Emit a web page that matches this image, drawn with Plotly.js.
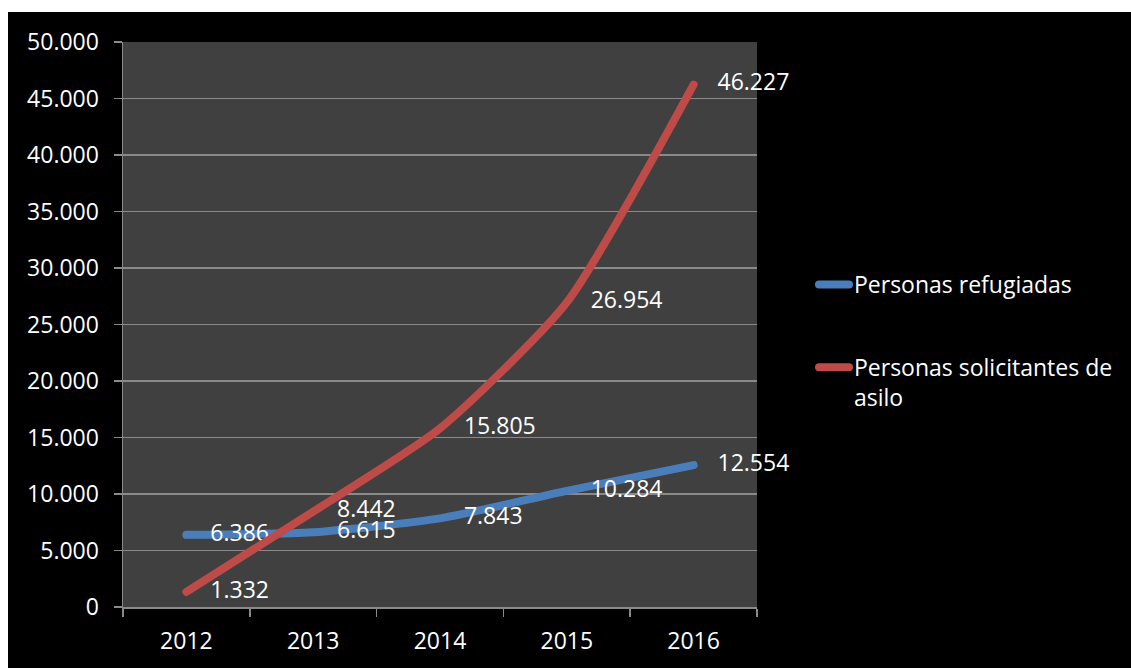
<!DOCTYPE html>
<html>
<head>
<meta charset="utf-8">
<script src="https://cdn.plot.ly/plotly-3.0.1.min.js"></script>
<style>
html,body{margin:0;padding:0;background:#fff;}#chart{width:1131px;height:668px;}
.js-line, .legendlines path{stroke-linecap:round !important;stroke-linejoin:round !important;}
</style>
</head>
<body>
<div id="chart"></div>
<script>
var years = ['2012', '2013', '2014', '2015', '2016'];
var refugiadas = [6386, 6615, 7843, 10284, 12554];
var solicitantes = [1332, 8442, 15805, 26954, 46227];
var seriesNames = ['Personas refugiadas', 'Personas solicitantes de<br>asilo'];
var yTicks = [0, 5000, 10000, 15000, 20000, 25000, 30000, 35000, 40000, 45000, 50000];

var FONT = '"Open Sans", Lato, sans-serif';
var FS = 23;
var W = 1131, H = 668, L = 123, R = 757, T = 42, B = 607;
function px(x) { return (x - L) / (R - L); }
function py(y) { return (B - y) / (B - T); }

var traces = [
  {
    x: years, y: refugiadas, name: seriesNames[0], legendgroup: 'a',
    type: 'scatter', mode: 'lines+text',
    line: {color: '#4A7EBB', width: 8, shape: 'spline', smoothing: 0.6},
    text: refugiadas, texttemplate: '    %{y:,}', textposition: 'middle right',
    textfont: {color: '#ffffff', size: FS, family: FONT},
    cliponaxis: false, hoverinfo: 'x+y'
  },
  {
    x: years, y: solicitantes, name: seriesNames[1], legendgroup: 'b',
    type: 'scatter', mode: 'lines+text',
    line: {color: '#BE4B48', width: 8, shape: 'spline', smoothing: 0.6},
    text: solicitantes, texttemplate: '    %{y:,}', textposition: 'middle right',
    textfont: {color: '#ffffff', size: FS, family: FONT},
    cliponaxis: false, hoverinfo: 'x+y'
  }
];

var layout = {
  width: W, height: H,
  margin: {l: L, r: W - R, t: T, b: H - B, pad: 0},
  paper_bgcolor: '#000000',
  plot_bgcolor: '#404040',
  separators: ',.',
  font: {family: FONT, color: '#ffffff', size: FS},
  showlegend: true,
  legend: {
    x: px(814), y: py(263), xanchor: 'left', yanchor: 'top',
    bgcolor: 'rgba(0,0,0,0)', font: {color: '#ffffff', size: FS, family: FONT},
    traceorder: 'grouped', tracegroupgap: 50, valign: 'top'
  },
  xaxis: {
    type: 'category', range: [-0.5, 4.5], tickson: 'boundaries',
    showline: true, linecolor: '#8a8a8a', linewidth: 1.5,
    ticks: 'outside', ticklen: 8, tickcolor: '#8a8a8a', tickwidth: 1.5,
    showgrid: false, zeroline: false,
    tickfont: {color: '#ffffff', size: FS, family: FONT},
    ticklabelstandoff: 13
  },
  yaxis: {
    range: [0, 50000], tickvals: yTicks, tickformat: ',',
    showline: true, linecolor: '#8a8a8a', linewidth: 1.5,
    ticks: 'outside', ticklen: 8, tickcolor: '#8a8a8a', tickwidth: 1.5,
    showgrid: true, gridcolor: '#8a8a8a', gridwidth: 1.5, zeroline: false,
    tickfont: {color: '#ffffff', size: FS, family: FONT},
    ticklabelstandoff: 10
  },
  shapes: [
    {type: 'rect', xref: 'paper', yref: 'paper', layer: 'above', line: {width: 0},
     fillcolor: '#ffffff', x0: px(0), x1: px(W), y0: py(0), y1: py(12)},
    {type: 'rect', xref: 'paper', yref: 'paper', layer: 'above', line: {width: 0},
     fillcolor: '#ffffff', x0: px(0), x1: px(8), y0: py(0), y1: py(H)}
  ]
};

Plotly.newPlot('chart', traces, layout, {displayModeBar: false, staticPlot: true});
</script>
</body>
</html>
